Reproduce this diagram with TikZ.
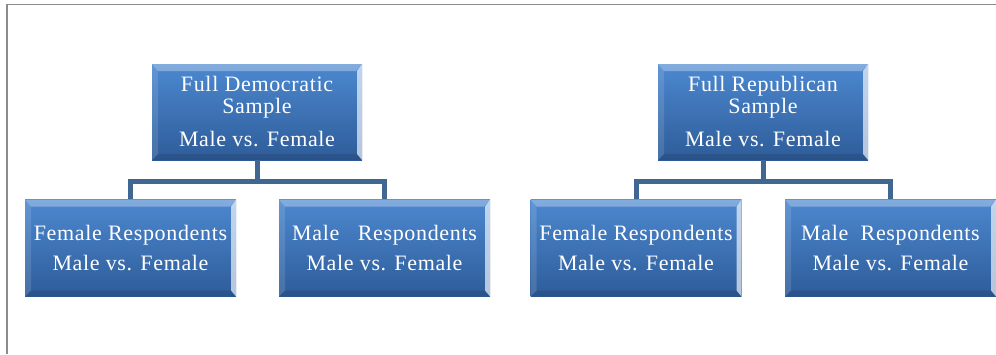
\documentclass[tikz,border=0pt]{standalone}
\usepackage{fontspec}
\setmainfont{Liberation Serif}[LetterSpace=3]
\definecolor{boxtop}{RGB}{76,136,208}
\definecolor{boxbot}{RGB}{46,92,152}
\definecolor{conncol}{RGB}{64,102,146}
\definecolor{framecol}{RGB}{140,140,140}
\begin{document}
\begin{tikzpicture}[x=1pt,y=-1pt,
  box/.style={minimum width=211pt, minimum height=97pt, inner sep=0pt,
    text=white, align=center, font=\fontsize{22}{22}\selectfont,
    top color=boxtop, bottom color=boxbot,
    path picture={
      \fill[white,opacity=0.30] (path picture bounding box.north west) -- (path picture bounding box.north east)
        -- ([xshift=-6pt,yshift=-7pt]path picture bounding box.north east) -- ([xshift=6pt,yshift=-7pt]path picture bounding box.north west) -- cycle;
      \fill[white,opacity=0.12] (path picture bounding box.north west) -- ([xshift=6pt,yshift=-7pt]path picture bounding box.north west)
        -- ([xshift=6pt,yshift=6pt]path picture bounding box.south west) -- (path picture bounding box.south west) -- cycle;
      \fill[white,opacity=0.65] (path picture bounding box.north east) -- ([xshift=-5pt,yshift=-7pt]path picture bounding box.north east)
        -- ([xshift=-5pt,yshift=6pt]path picture bounding box.south east) -- (path picture bounding box.south east) -- cycle;
      \fill[black,opacity=0.10] (path picture bounding box.south west) -- ([xshift=6pt,yshift=6pt]path picture bounding box.south west)
        -- ([xshift=-5pt,yshift=6pt]path picture bounding box.south east) -- (path picture bounding box.south east) -- cycle;
    }},
  conn/.style={draw=conncol, line width=5pt}]
\useasboundingbox (0,0) rectangle (996,354);
\draw[framecol, line width=1.5pt] (7,354) -- (7,4.5) -- (996,4.5);

\node[box, minimum width=210pt, minimum height=96pt] (A) at (257,112) {Full Democratic\\Sample\\[11pt]Male vs. Female};
\node[box, minimum width=210pt, minimum height=96pt] (B) at (763,112) {Full Republican\\Sample\\[11pt]Male vs. Female};

\node[box] (C) at (130.5,248) {Female Respondents\\[8pt]Male vs. Female};
\node[box] (D) at (384.5,248) {Male\ \ \ Respondents\\[8pt]Male vs. Female};
\node[box] (E) at (636,248) {Female Respondents\\[8pt]Male vs. Female};
\node[box] (F) at (890.5,248) {Male\ \ Respondents\\[8pt]Male vs. Female};

\coordinate (Aj) at (257,181);
\coordinate (Bj) at (763,181);
\draw[conn] (A.south) -- (Aj);
\draw[conn] (Aj) -| (C.north);
\draw[conn] (Aj) -| (D.north);
\draw[conn] (B.south) -- (Bj);
\draw[conn] (Bj) -| (E.north);
\draw[conn] (Bj) -| (F.north);
\end{tikzpicture}
\end{document}
